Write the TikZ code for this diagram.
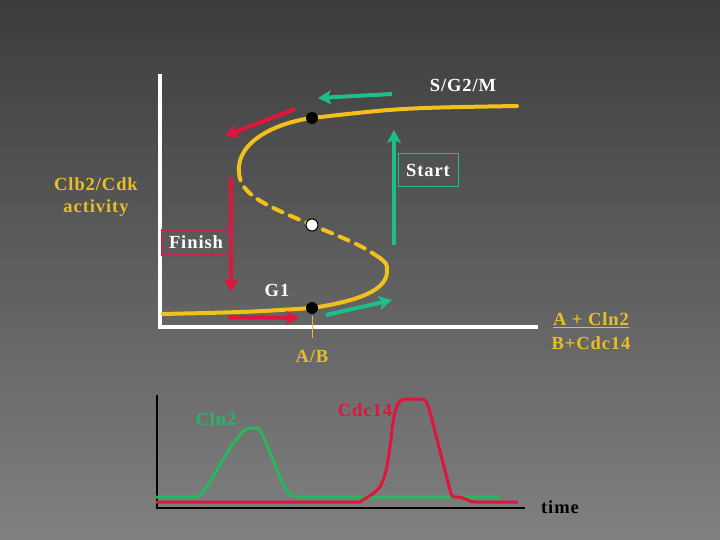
\documentclass[tikz,border=0pt]{standalone}
\usepackage{fontspec}
\setmainfont{Liberation Serif}[LetterSpace=5]
\usetikzlibrary{arrows.meta}
\definecolor{cyel}{RGB}{242,192,26}
\definecolor{ctxtyel}{RGB}{232,190,40}
\definecolor{cteal}{RGB}{28,190,140}
\definecolor{cred}{RGB}{224,20,60}
\definecolor{cgreen}{RGB}{38,184,96}
\definecolor{cfin}{RGB}{196,40,72}
\tikzset{
  lbl/.style={font=\fontsize{18.5}{21}\selectfont\bfseries, inner sep=0pt},
  bigarrow/.style={line width=4pt, -{Stealth[length=13pt,width=14pt,inset=3pt]}},
  curve/.style={cyel, line width=4pt, line cap=round},
  dot/.style={circle, fill=black, minimum size=12pt, inner sep=0pt},
  wdot/.style={circle, fill=white, draw=black, line width=1pt, minimum size=12pt, inner sep=0pt}
}
\begin{document}
\begin{tikzpicture}[x=1pt,y=-1pt]
\shade[top color={rgb,255:red,60;green,60;blue,60}, bottom color={rgb,255:red,128;green,128;blue,128}] (0,0) rectangle (720,540);
\useasboundingbox (0,0) rectangle (720,540);
% upper axes
\draw[white, line width=4pt] (160,74) -- (160,327) -- (538,327);
% S curve
\draw[curve] (163,314) .. controls (250,312) .. (312,308) .. controls (365,300) and (388,288) .. (387,270) .. controls (387,264) .. (380,258);
\draw[curve, dash pattern=on 10pt off 8pt] (380,258) .. controls (360,245) .. (312,225) .. controls (265,205) and (240,195) .. (239,172);
\draw[curve] (239,172) .. controls (236,140) and (280,122) .. (312,118) .. controls (400,108) .. (517,106);
\draw[ctxtyel, line width=1pt] (312,316) -- (312,338);
\node[dot] (d1) at (312,118) {};
\node[wdot] (d2) at (312,225) {};
\node[dot] (d3) at (312,308) {};
% arrows
\coordinate (t1a) at (392,94); \coordinate (t1b) at (318,98);
\draw[bigarrow, cteal] (t1a) -- (t1b);
\coordinate (r1a) at (295,109); \coordinate (r1b) at (225,136);
\draw[bigarrow, cred] (r1a) -- (r1b);
\coordinate (r2a) at (231,177); \coordinate (r2b) at (231,292);
\draw[bigarrow, cred] (r2a) -- (r2b);
\coordinate (t2a) at (394,245); \coordinate (t2b) at (394,130);
\draw[bigarrow, cteal] (t2a) -- (t2b);
\coordinate (r3a) at (228,317); \coordinate (r3b) at (299,318);
\draw[bigarrow, cred] (r3a) -- (r3b);
\coordinate (t3a) at (326,315); \coordinate (t3b) at (392,300);
\draw[bigarrow, cteal] (t3a) -- (t3b);
% boxes
\node[lbl, draw=cteal, line width=1pt, minimum width=60pt, minimum height=33pt, text=white] (start) at (428,170.5) {Start};
\node[lbl, draw=cfin, line width=1.2pt, minimum width=68pt, minimum height=25pt, text=white] (finish) at (196,242.5) {Finish};
% labels
\node[lbl, white] (sg) at (463,85) {S/G2/M};
\node[lbl, white] (g1) at (277,290) {G1};
\node[lbl, ctxtyel, align=center] (clb) at (96,197) {Clb2/Cdk\\[1pt]activity};
\node[lbl, ctxtyel] (ab) at (312,356) {A/B};
\node[lbl, ctxtyel] (acln) at (591,320) {\underline{A + Cln2}};
\node[lbl, ctxtyel] (bcdc) at (591,343) {B+Cdc14};
% bottom chart
\draw[black, line width=1.5pt] (157,395) -- (157,508) -- (525,508);
\draw[cgreen, line width=3pt] (156,497) -- (197,497) .. controls (207,494) and (222,455) .. (240,435) .. controls (245,429) .. (252,428) -- (258,428) .. controls (263,431) and (276,470) .. (286,490) .. controls (291,496) .. (300,497) -- (500,497);
\draw[cred, line width=3pt] (156,502) -- (360,502) .. controls (365,498) and (372,495) .. (375,492) .. controls (385,485) and (388,465) .. (392,430) .. controls (395,405) and (398,400) .. (405,399) -- (421,399) .. controls (426,400) .. (430,412) -- (450,490) .. controls (452,497) .. (457,497) .. controls (465,497) and (468,502) .. (475,502) -- (518,502);
\node[lbl, cgreen] (cln) at (216,419) {Cln2};
\node[lbl, cred] (cdc) at (365,410) {Cdc14};
\node[lbl, black] (time) at (560,507) {time};
\end{tikzpicture}
\end{document}
